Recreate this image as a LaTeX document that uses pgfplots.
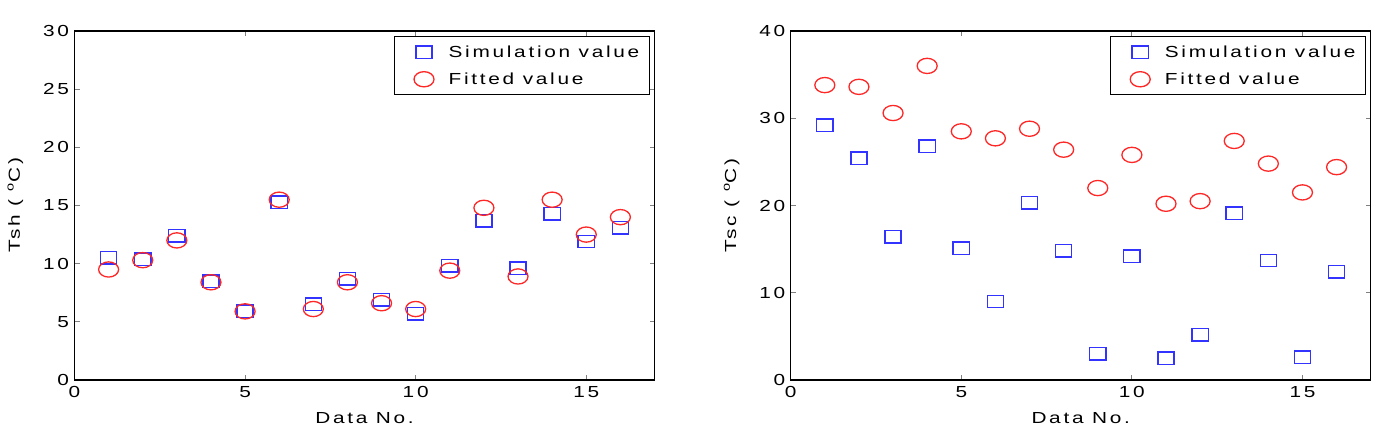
\documentclass[border=0pt]{standalone}
\usepackage{pgfplots}
\pgfplotsset{compat=1.18}
\usepackage{fontspec}
\setmainfont{Liberation Sans}[FakeStretch=1.3, LetterSpace=17]
\newcommand{\fs}{\fontsize{16bp}{19bp}\selectfont}
\definecolor{mblue}{rgb}{0.2,0.2,1}
\definecolor{mred}{rgb}{1,0.15,0.15}

\pgfdeclareplotmark{mysq}{%
  \pgfpathrectangle{\pgfqpoint{-8.1bp}{-6.2bp}}{\pgfqpoint{16.2bp}{12.4bp}}%
  \pgfusepathqstroke}
\pgfdeclareplotmark{myell}{%
  \pgfpathellipse{\pgfpointorigin}{\pgfqpoint{10bp}{0bp}}{\pgfqpoint{0bp}{7.6bp}}%
  \pgfusepathqstroke}

\pgfplotstableread{
x sim fit
1 10.5 9.5
2 10.4 10.3
3 12.4 12.0
4 8.5 8.4
5 5.9 5.9
6 15.3 15.5
7 6.5 6.1
8 8.7 8.4
9 6.9 6.6
10 5.7 6.1
11 9.8 9.4
12 13.7 14.8
13 9.6 8.9
14 14.3 15.5
15 11.9 12.5
16 13.1 14.0
}\tsh

\pgfplotstableread{
x sim fit
1 29.2 33.8
2 25.4 33.6
3 16.4 30.6
4 26.8 36.0
5 15.1 28.5
6 9.0 27.7
7 20.3 28.8
8 14.8 26.4
9 3.0 22.0
10 14.2 25.8
11 2.5 20.2
12 5.2 20.5
13 19.1 27.4
14 13.7 24.8
15 2.6 21.5
16 12.4 24.4
}\tsc

\pgfplotsset{
  mystyle/.style={
    scale only axis,
    width=580bp, height=349bp,
    anchor=south west,
    xmin=0, xmax=17,
    xtick={0,5,10,15},
    ymin=0,
    axis line style={line width=1.3bp},
    major tick length=5bp,
    tick style={line width=0.8bp},
    tick label style={font=\fs},
    xticklabel style={yshift=-3bp},
    yticklabel style={xshift=-2bp},
    label style={font=\fs},
    /pgf/number format/assume math mode=true,
    xlabel={Data No.},
    xlabel style={yshift=-8bp},
    ylabel style={yshift=13bp},
    legend style={at={(1,1)}, anchor=north east, xshift=-4.5bp, yshift=-5bp,
      draw=black, line width=1.3bp, font=\fs, inner xsep=8bp, inner ysep=7bp,
      row sep=10bp, cells={anchor=west}},
    legend cell align=left,
    legend image code/.code={\path (0bp,0bp) (43bp,0bp);
      \draw[##1] plot coordinates {(21bp,0bp)};},
  },
  simstyle/.style={draw=mblue, only marks, mark=mysq,
     mark options={line width=1.4bp, draw=mblue, fill=none, solid}},
  fitstyle/.style={draw=mred, only marks, mark=myell,
     mark options={line width=1.3bp, draw=mred, fill=none, solid}},
}

\begin{document}
\begin{tikzpicture}
\path[use as bounding box] (-74.5bp,-51bp) rectangle (1308.5bp,380bp);
\begin{axis}[mystyle, at={(0,0)}, ymax=30, ytick={0,5,...,30},
  ylabel={Tsh ( \textsuperscript{o}C)}]
\addplot[simstyle] table[x=x, y=sim] {\tsh};
\addlegendentry{Simulation value}
\addplot[fitstyle] table[x=x, y=fit] {\tsh};
\addlegendentry{Fitted value}
\end{axis}
\begin{axis}[mystyle, at={(716.2bp,0)}, ymax=40, ytick={0,10,...,40},
  ylabel={Tsc ( \textsuperscript{o}C)}]
\addplot[simstyle] table[x=x, y=sim] {\tsc};
\addlegendentry{Simulation value}
\addplot[fitstyle] table[x=x, y=fit] {\tsc};
\addlegendentry{Fitted value}
\end{axis}
\end{tikzpicture}
\end{document}
